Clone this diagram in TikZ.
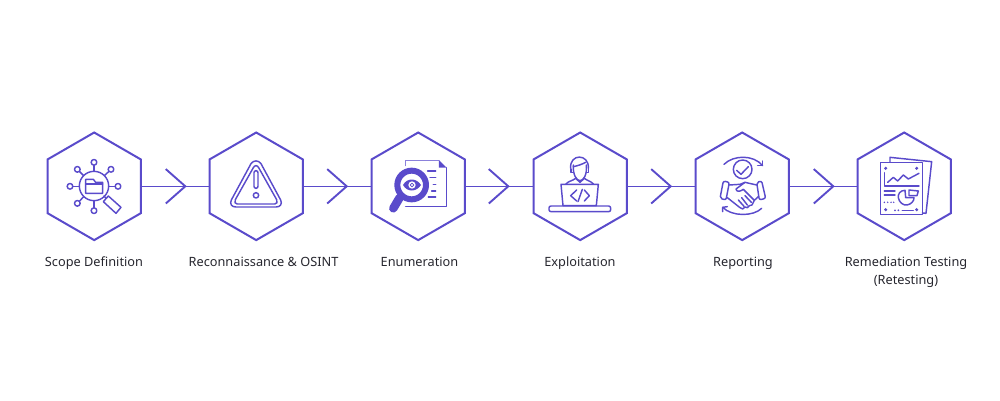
\documentclass[tikz,border=0pt]{standalone}
\usepackage{fontspec}
\setmainfont{Noto Sans}
\usetikzlibrary{shapes.geometric,arrows.meta}
\definecolor{vio}{HTML}{5A4BCB}
\definecolor{ink}{HTML}{26262E}
\tikzset{
  hexbox/.style={regular polygon,regular polygon sides=6,regular polygon rotate=30,minimum size=107.6pt,inner sep=0pt,outer sep=0pt,draw=vio,line width=2pt},
  conn/.style={draw=vio,line width=1.4pt},
  chev/.style={draw=vio,line width=1.9pt,line join=miter},
  lab/.style={text=ink,font=\fontsize{12.75}{18}\selectfont,align=center,inner sep=0pt,anchor=base},
  ic/.style={draw=vio,line width=1.45pt,line cap=round,line join=round},
  icz/.style={x=0.3333pt,y=-0.3333pt},
}
\begin{document}
\begin{tikzpicture}[x=1pt,y=-1pt]
\useasboundingbox (0,0) rectangle (1000,400);
\foreach \n/\xx in {1/94.2,2/256.2,3/418.2,4/580.2,5/742.2,6/904.2}{
  \node[hexbox] (hex\n) at (\xx,186.3) {};
}
\foreach \n/\t in {1/185.3,2/346.7,3/508.3,4/670.7,5/833.3}{
  \coordinate (tip\n) at (\t,186.3);
  \draw[chev] ([shift={(-19.5,-17.2)}]tip\n) -- (tip\n) -- ([shift={(-19.5,17.2)}]tip\n);
}
\draw[conn] (hex1) -- (hex2);
\draw[conn] (hex2) -- (hex3);
\draw[conn] (hex3) -- (hex4);
\draw[conn] (hex4) -- (hex5);
\draw[conn] (hex5) -- (hex6);
\node[lab] (lab1) at (94,266.3) {Scope Definition};
\node[lab] (lab2) at (263.5,266.3) {Reconnaissance \& OSINT};
\node[lab] (lab3) at (419.5,266.3) {Enumeration};
\node[lab] (lab4) at (580,266.3) {Exploitation};
\node[lab] (lab5) at (743,266.3) {Reporting};
\node[lab] (lab6) at (906,266.3) {Remediation Testing};
\node[lab] (lab7) at (906,284.3) {(Retesting)};

% icon 1
\begin{scope}[shift={(40,125)},icz,ic]
\draw (162,183) circle (44);
\draw (137,205) -- (137,163) -- (160,163) -- (167,172) -- (188,172) -- (188,205) -- cycle;
\draw (137,177) -- (188,177);
\foreach \p/\q in {162/112, 112/133, 213/133, 90/184, 234/184, 112/235, 162/257}{
  \draw (\p,\q) circle (8.5);
}
\draw (162,121) -- (162,138); \draw (119,140) -- (130,151); \draw (206,140) -- (194,151);
\draw (99,184) -- (118,184); \draw (225,184) -- (206,184); \draw (119,228) -- (130,216); \draw (162,248) -- (162,228);
\draw (205,213) -- (243,247) -- (228,265) -- (190,230) -- cycle;
\draw (192,213) -- (198,220);
\end{scope}

% icon 2
\begin{scope}[shift={(200,125)},icz,ic]
\draw (153,116) .. controls (160,105) and (176,105) .. (183,116) -- (242,225) .. controls (248,238) and (240,246) .. (228,246) -- (108,246) .. controls (96,246) and (88,238) .. (94,225) -- cycle;
\draw (160,128) .. controls (164,120) and (172,120) .. (176,128) -- (230,224) .. controls (234,232) and (230,237) .. (224,237) -- (112,237) .. controls (106,237) and (102,232) .. (106,224) -- cycle;
\draw[rounded corners=2pt] (162,137) rectangle (174,190);
\draw (168,211) circle (8);
\end{scope}

% icon 3
\begin{scope}[shift={(365,125)},icz,ic]
\draw[line width=1pt,draw=vio!70] (122,122) -- (122,105) -- (222,105);
\draw (245,128) -- (245,245) -- (122,245);
\fill[vio] (222,105) -- (245,128) -- (222,128) -- cycle;
\draw (188,138) -- (212,138); \draw (195,158) -- (212,158); \draw (205,178) -- (212,178); \draw (200,198) -- (212,198); \draw (190,216) -- (212,216);
\fill[white] (140,180) circle (52);
\draw[line width=6pt] (140,180) circle (43);
\draw[line width=8.5pt] (104,218) -- (85,250);
\fill[vio] (114,180) .. controls (126,158) and (154,158) .. (168,180) .. controls (154,202) and (126,202) .. (114,180) -- cycle;
\fill[white] (141,180) circle (11);
\draw[line width=0.8pt] (141,180) circle (5.5);
\end{scope}

% icon 4
\begin{scope}[shift={(525,125)},icz,ic]
\draw (137,130) .. controls (133,85) and (193,85) .. (190,130);
\draw (145,125) .. controls (160,122) and (170,118) .. (182,112);
\draw (145,120) .. controls (143,150) and (155,167) .. (165,167) .. controls (175,167) and (187,150) .. (184,120);
\draw (138,132) -- (138,142) -- (145,142); \draw (190,130) -- (190,142) -- (184,142);
\draw (122,178) .. controls (130,168) and (142,168) .. (152,160) -- (165,172) -- (178,160) .. controls (188,168) and (198,168) .. (206,178);
\draw (108,178) -- (220,178) -- (214,242) -- (114,242) -- cycle;
\draw[rounded corners=2pt] (72,243) rectangle (257,260);
\draw (155,195) -- (137,212) -- (155,228);
\draw (172,193) -- (159,230);
\draw (178,195) -- (193,212) -- (178,228);
\end{scope}

% icon 5
\begin{scope}[shift={(690,125)},icz,ic]
\draw (158,133) circle (28);
\draw (140,136) -- (153,148) -- (175,125);
\draw (102,118) .. controls (130,90) and (190,88) .. (218,122);
\draw (218,108) -- (218,122) -- (203,122);
\draw (215,250) .. controls (190,275) and (125,275) .. (98,247);
\draw (98,260) -- (98,247) -- (112,245);
\draw[rounded corners=2pt] (100,168) -- (118,172) -- (108,225) -- (90,220) -- cycle;
\draw[rounded corners=2pt] (215,168) -- (200,172) -- (208,225) -- (227,220) -- cycle;
\draw (118,180) -- (150,178) -- (165,172) -- (200,180);
\draw (165,172) -- (138,192) .. controls (140,202) and (150,200) .. (160,193) -- (193,226);
\draw (112,218) -- (150,248) -- (158,252) -- (165,246) -- (172,248) -- (178,242) -- (186,240) -- (193,226) -- (205,215);
\draw (145,225) -- (162,244); \draw (155,218) -- (172,240); \draw (165,212) -- (184,232);
\end{scope}

% icon 6
\begin{scope}[shift={(845,125)},icz,ic]
\draw (135,110) -- (135,97) -- (260,110) -- (243,265) -- (232,264);
\draw[line width=1.6pt] (106,113) rectangle (232,268);
\foreach \p/\q in {122/130,215/130,122/254,215/254}{\fill[vio] (\p,\q) circle (5);}
\draw (118,143) -- (118,183) -- (222,183);
\draw (128,172) -- (145,157) -- (158,168) -- (175,150) -- (190,162) -- (222,145);
\draw (118,198) -- (150,198); \draw (118,210) -- (150,210);
\foreach \p in {118,128,138,146}{\fill[vio] (\p,232) circle (2.5);}
\draw (180,196) .. controls (165,196) and (158,208) .. (160,218) .. controls (162,232) and (175,242) .. (186,240) .. controls (198,238) and (208,228) .. (207,218) -- (182,218) -- cycle;
\draw (192,195) -- (220,198) -- (216,212) -- (192,212) -- cycle;
\fill[vio] (150,256) circle (3); \fill[vio] (160,256) circle (3);
\draw (172,256) -- (205,256);
\end{scope}
\end{tikzpicture}
\end{document}
